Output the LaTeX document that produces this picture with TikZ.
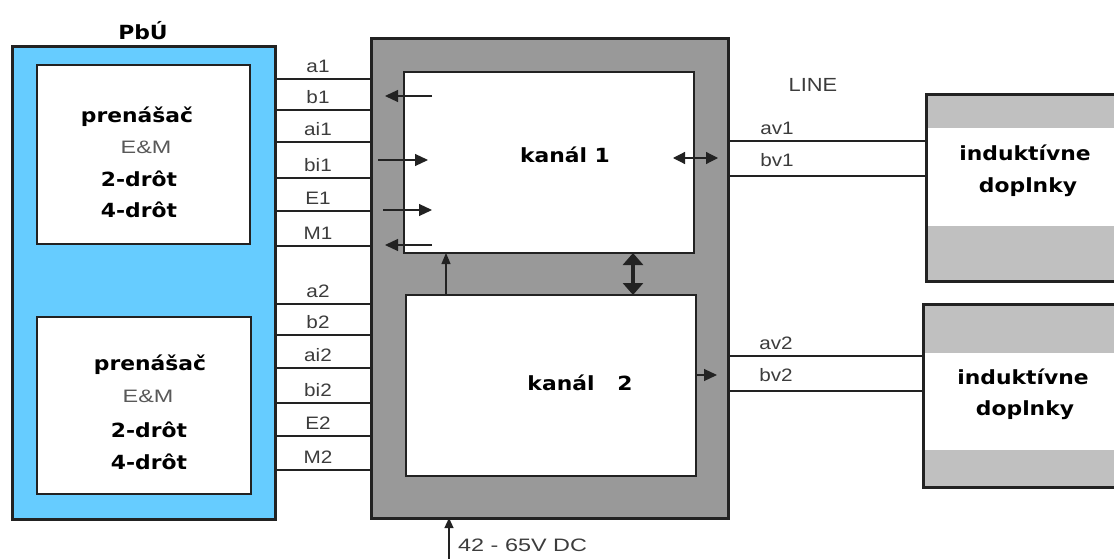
\documentclass[tikz,border=0pt]{standalone}
\usepackage{fontspec}
\setmainfont{Liberation Sans}
\newfontfamily\boldf[FakeStretch=1.12]{DejaVu Sans Bold}
\newfontfamily\labf[FakeStretch=1.15]{Liberation Sans}
\newfontfamily\widef[FakeStretch=1.3]{Liberation Sans}
\usetikzlibrary{arrows.meta}
\definecolor{pbublue}{RGB}{102,204,255}
\definecolor{boxgray}{RGB}{153,153,153}
\definecolor{bandgray}{RGB}{192,192,192}
\definecolor{edge}{RGB}{34,34,34}
\definecolor{labgray}{RGB}{60,60,60}
\tikzset{
  box/.style={draw=edge, anchor=north west, inner sep=0pt, outer sep=0pt},
  inner/.style={box, fill=white, line width=1.5pt},
  sig/.style={draw=edge, line width=1.3pt},
  lab/.style={font=\labf\fontsize{18}{20}\selectfont, text=labgray, inner sep=0pt},
  btxt/.style={font=\boldf\fontsize{19.5}{22}\selectfont, text=black, inner sep=0pt},
  emtxt/.style={font=\widef\fontsize{18}{20}\selectfont, text=labgray!85, inner sep=0pt},
  sarrow/.style={draw=edge, line width=1.2pt, -{Triangle[length=13pt,width=12pt]}},
}
\begin{document}
\begin{tikzpicture}[x=1pt,y=-1pt]
\useasboundingbox (0,0) rectangle (1114,559);
% PbU block
\node[btxt] (pbut) at (143,31) {PbÚ};
\node[box, fill=pbublue, line width=3pt, minimum width=263pt, minimum height=472pt] (pbu) at (12,47) {};
\node[inner, minimum width=213pt, minimum height=179pt] (p1) at (37,65) {};
\node[inner, minimum width=214pt, minimum height=177pt] (p2) at (37,317) {};
\node[btxt] (p1a) at (137,117) {prenášač};
\node[emtxt] (p1b) at (146,147) {E\&M};
\node[btxt] (p1c) at (139,179) {2-drôt};
\node[btxt] (p1d) at (139,210) {4-drôt};
\node[btxt] (p2a) at (150,365) {prenášač};
\node[emtxt] (p2b) at (148,396) {E\&M};
\node[btxt] (p2c) at (149,430) {2-drôt};
\node[btxt] (p2d) at (149,462) {4-drôt};
% gray block
\node[box, fill=boxgray, line width=3pt, minimum width=357pt, minimum height=479pt] (gray) at (371,39) {};
\node[inner, minimum width=290pt, minimum height=181pt] (k1) at (404,72) {};
\node[inner, minimum width=290pt, minimum height=181pt] (k2) at (406,295) {};
\node[btxt] (k1t) at (565,155) {kanál 1};
\node[btxt] (k2t) at (580,383) {kanál \ \ 2};
% signal lines
\foreach \y/\t in {79/a1,110/b1,142/ai1,178/bi1,211/E1,246/M1,304/a2,335/b2,368/ai2,403/bi2,436/E2,470/M2}{
  \draw[sig] (pbu.east |- 0,\y) -- (gray.west |- 0,\y);
  \node[lab] (l\t) at (318,\y-13) {\t};
}
% arrows in channel 1
\draw[sarrow] (k1.west |- 0,96) ++(28,0) -- ++(-47,0);
\draw[sarrow] (k1.west |- 0,160) ++(-26,0) -- ++(50,0);
\draw[sarrow] (k1.west |- 0,210) ++(-21,0) -- ++(49,0);
\draw[sarrow] (k1.west |- 0,245) ++(28,0) -- ++(-47,0);
\draw[draw=edge, line width=1.2pt, -{Triangle[length=11pt,width=9pt]}] (k2.north -| 446,0) -- (k1.south -| 446,0);
\draw[draw=edge, line width=4pt, {Triangle[length=12pt,width=20pt]}-{Triangle[length=12pt,width=20pt]}] (k2.north -| 633,0) -- (k1.south -| 633,0);
\draw[draw=edge, line width=1.2pt, {Triangle[length=12pt,width=12pt]}-{Triangle[length=12pt,width=12pt]}] (673,158) -- (718,158);
\draw[draw=edge, line width=1.2pt, -{Triangle[length=13pt,width=12pt]}] (k2.east |- 0,375) -- (717,375);
% power
\coordinate (pw) at (449,562);
\draw[draw=edge, line width=1.2pt, -{Triangle[length=10pt,width=9pt]}] (pw) -- (gray.south -| pw);
\node[emtxt, text=labgray, anchor=west] (pwt) at (458,545) {42 - 65V DC};
% inductive boxes
\node[box, fill=white, line width=3pt, minimum width=200pt, minimum height=186pt,
  path picture={\fill[bandgray] (path picture bounding box.north west) rectangle ([yshift=-33pt]path picture bounding box.north east);
                \fill[bandgray] (path picture bounding box.south west) rectangle ([yshift=55pt]path picture bounding box.south east);}] (ind1) at (926,95) {};
\draw[edge, line width=3pt] (ind1.north east) -- (ind1.north west) -- (ind1.south west) -- (ind1.south east);
\node[box, fill=white, line width=3pt, minimum width=200pt, minimum height=183pt,
  path picture={\fill[bandgray] (path picture bounding box.north west) rectangle ([yshift=-49pt]path picture bounding box.north east);
                \fill[bandgray] (path picture bounding box.south west) rectangle ([yshift=37pt]path picture bounding box.south east);}] (ind2) at (923,304) {};
\draw[edge, line width=3pt] (ind2.north east) -- (ind2.north west) -- (ind2.south west) -- (ind2.south east);
\node[btxt] (i1a) at (1025,153) {induktívne};
\node[btxt] (i1b) at (1028,187) {doplnky};
\node[btxt] (i2a) at (1023,377) {induktívne};
\node[btxt] (i2b) at (1025,410) {doplnky};
% line side
\node[lab, font=\labf\fontsize{19}{21}\selectfont] (line) at (813,85) {LINE};
\draw[sig] (gray.east |- 0,141) -- (ind1.west |- 0,141);
\draw[sig] (gray.east |- 0,176) -- (ind1.west |- 0,176);
\draw[sig] (gray.east |- 0,356) -- (ind2.west |- 0,356);
\draw[sig] (gray.east |- 0,391) -- (ind2.west |- 0,391);
\node[lab] (av1) at (777,128) {av1};
\node[lab] (bv1) at (777,160) {bv1};
\node[lab] (av2) at (776,343) {av2};
\node[lab] (bv2) at (776,375) {bv2};
\end{tikzpicture}
\end{document}
